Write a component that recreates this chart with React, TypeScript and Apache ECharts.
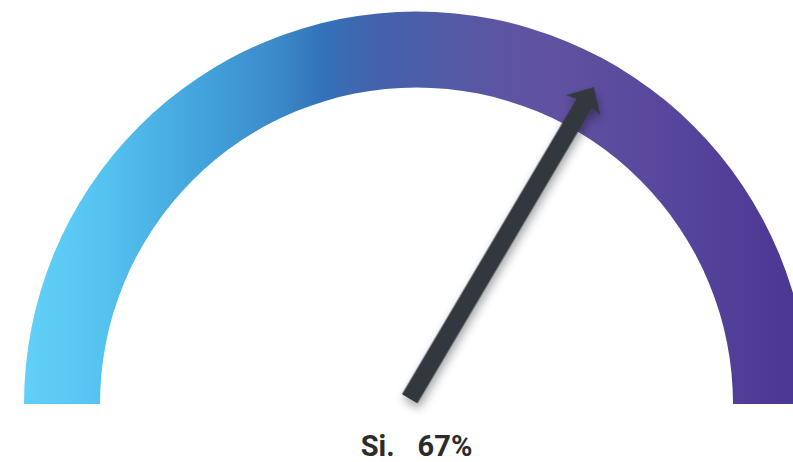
import React, { useEffect, useRef } from "react";
import * as echarts from "echarts";

const gaugeLabel = "Si.";
const gaugeValues = [67];
const gaugeMin = 0;
const gaugeMax = 100;
const gradientStops: [number, string][] = [
  [0, "#61d1f8"],
  [0.1, "#55c3f0"],
  [0.23, "#42a2db"],
  [0.33, "#3b87c7"],
  [0.38, "#3372b9"],
  [0.45, "#4462ab"],
  [0.6, "#5b55a3"],
  [0.68, "#6151a1"],
  [0.85, "#55449b"],
  [1, "#4b3591"],
];

const arrowPath =
  "path://M11,362 L11,19 L0,21 L20,0 L40,21 L29,19 L29,362 Z";

export default function App() {
  const ref = useRef<HTMLDivElement>(null);
  useEffect(() => {
    if (!ref.current) return;
    const chart = echarts.init(ref.current, null, { renderer: "svg" });
    chart.setOption({
      animation: false,
      backgroundColor: "#ffffff",
      series: [
        {
          type: "gauge",
          center: [416.5, 404],
          radius: 392.5,
          startAngle: 180,
          endAngle: 0,
          min: gaugeMin,
          max: gaugeMax,
          axisLine: {
            lineStyle: {
              width: 76,
              color: [
                [
                  1,
                  new echarts.graphic.LinearGradient(
                    0,
                    0,
                    1,
                    0,
                    gradientStops.map(([offset, color]) => ({ offset, color }))
                  ),
                ],
              ],
            },
          },
          splitLine: { show: false },
          axisTick: { show: false },
          axisLabel: { show: false },
          anchor: { show: false },
          progress: { show: false },
          title: { show: false },
          pointer: {
            icon: arrowPath,
            length: 362,
            width: 40,
            offsetCenter: [-8.5, -1],
            keepAspect: false,
            itemStyle: {
              color: "#33393c",
              shadowBlur: 10,
              shadowColor: "rgba(0,0,0,0.35)",
              shadowOffsetX: 4,
              shadowOffsetY: 4,
            },
          },
          detail: {
            show: true,
            offsetCenter: [0, 42],
            valueAnimation: false,
            formatter: (v: number) => `{a|${gaugeLabel}}{b|${v}%}`,
            rich: {
              a: {
                fontFamily: "Roboto",
                fontWeight: "bold",
                fontSize: 29,
                lineHeight: 24,
                color: "#2b2b2b",
              },
              b: {
                fontFamily: "Roboto",
                fontWeight: "bold",
                fontSize: 29,
                lineHeight: 24,
                color: "#2b2b2b",
                padding: [0, 0, 0, 23],
              },
            },
          },
          data: gaugeValues.map((value) => ({ value })),
        },
      ],
    });
    return () => chart.dispose();
  }, []);
  return (
    <div
      ref={ref}
      style={{ position: "fixed", left: 0, top: 0, width: 793, height: 462 }}
    />
  );
}
